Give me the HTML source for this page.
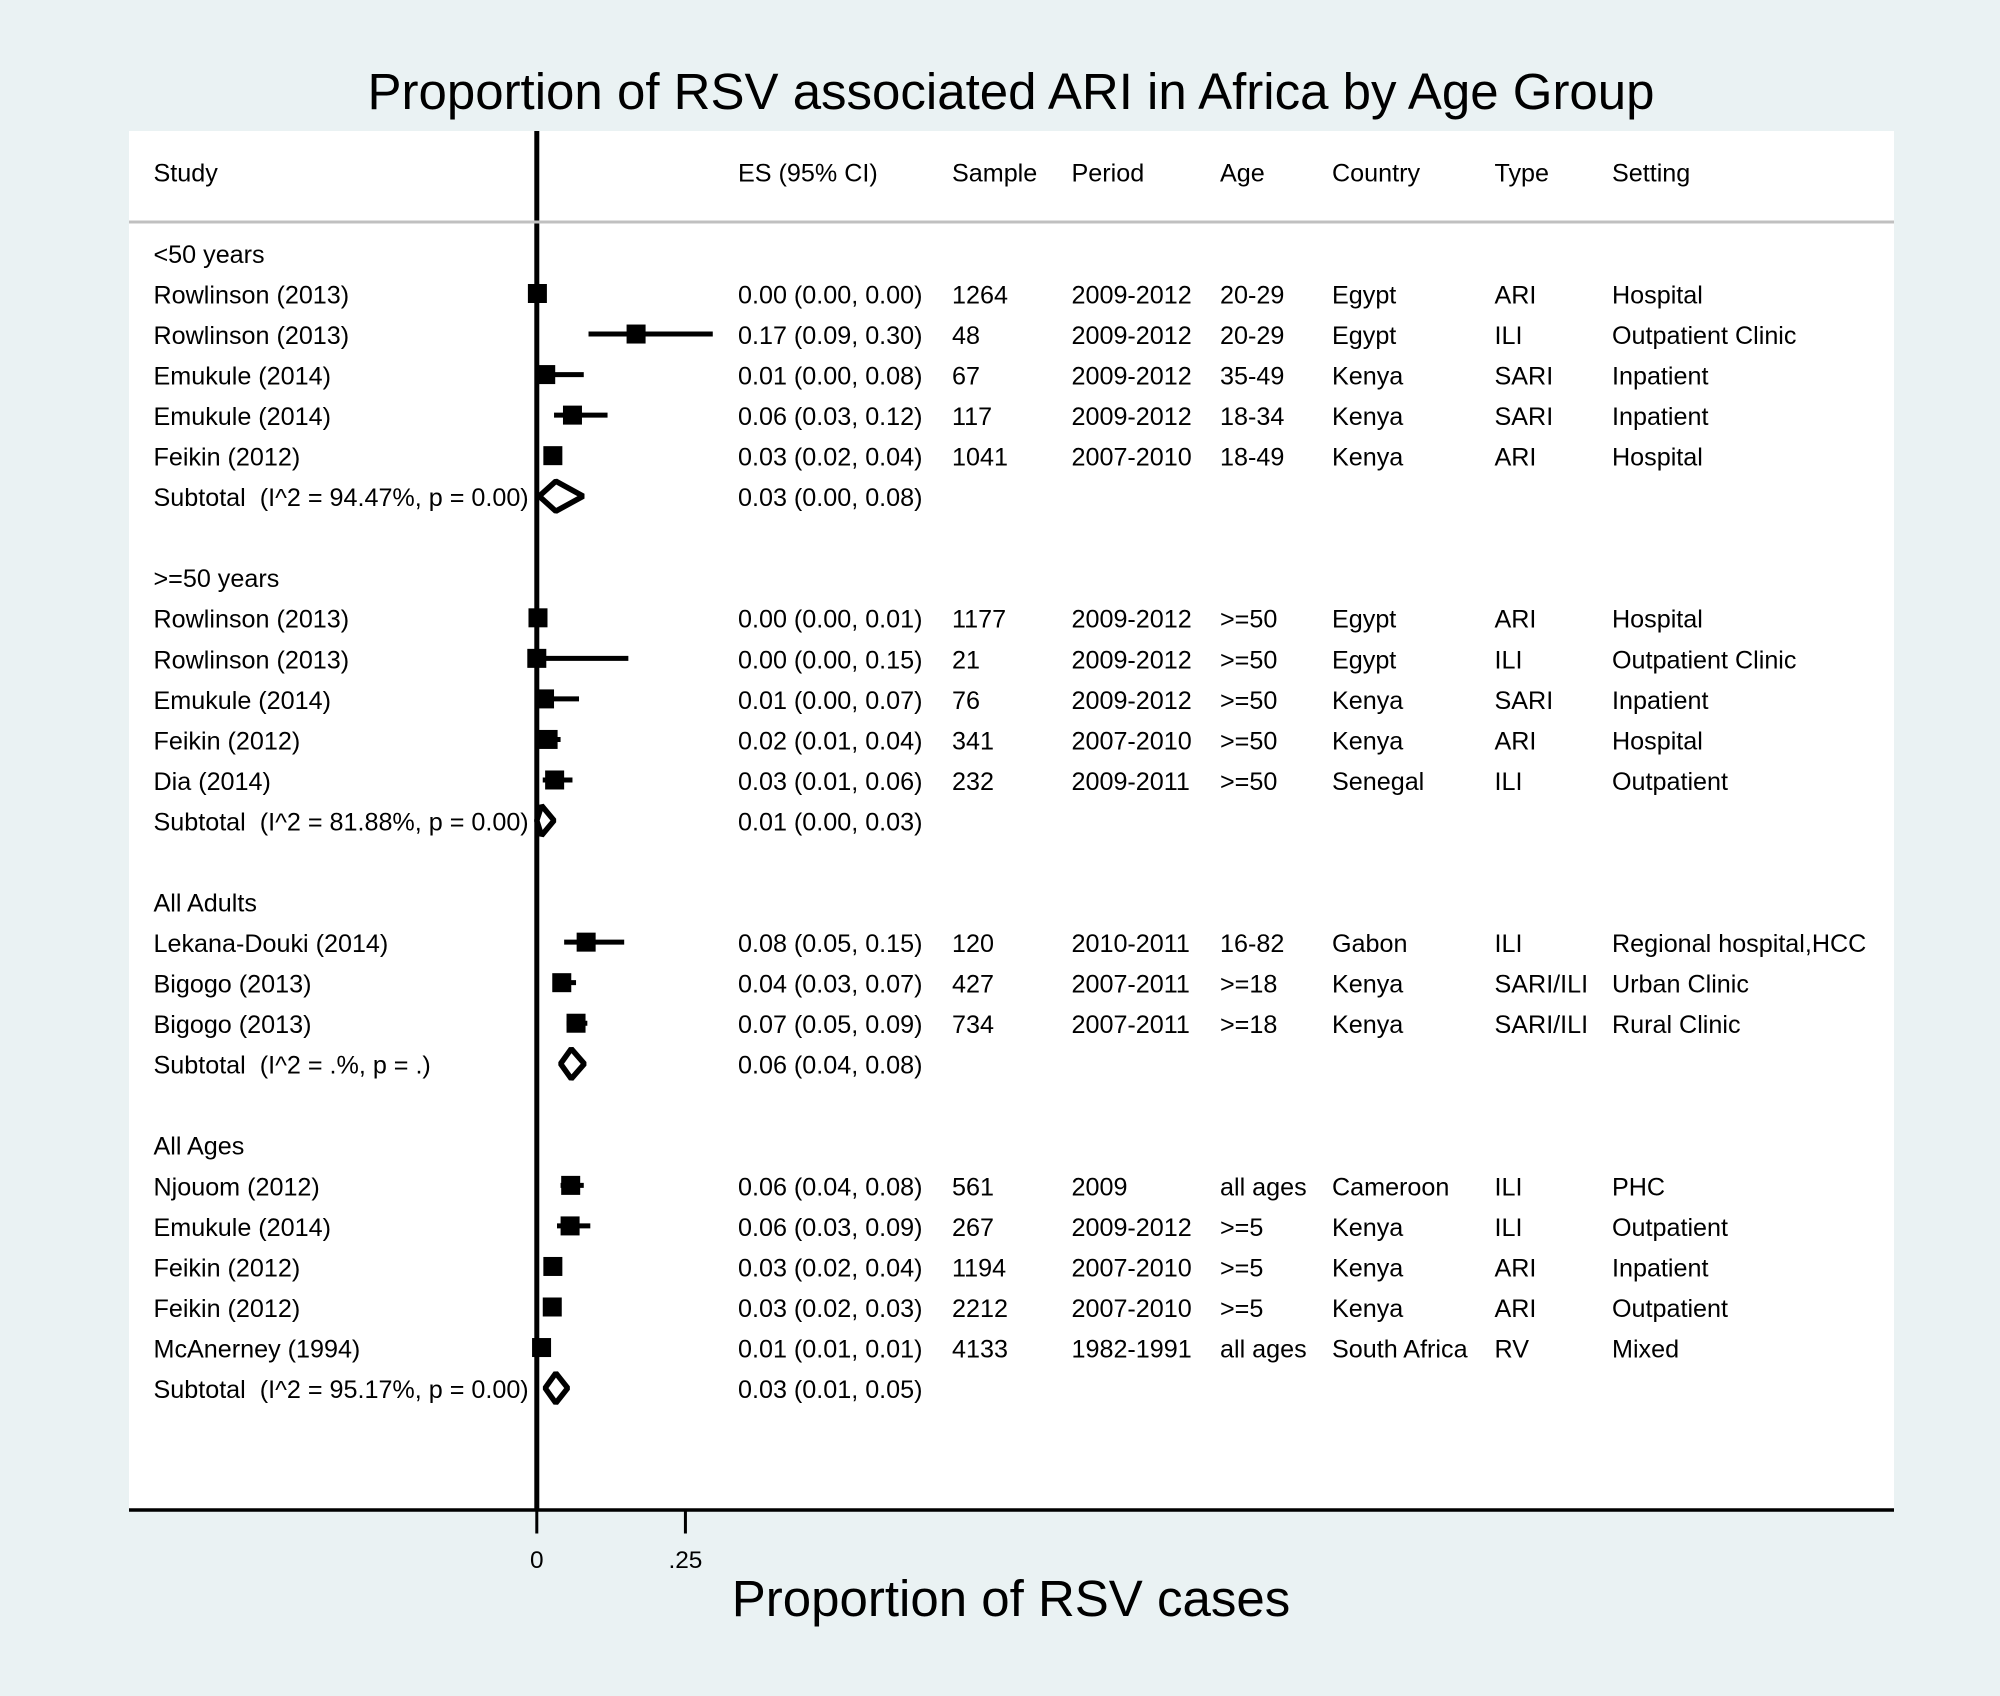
<!DOCTYPE html>
<html lang="en">
<head>
<meta charset="utf-8">
<title>Proportion of RSV associated ARI in Africa by Age Group</title>
<style>
  html, body { margin: 0; padding: 0; background: #eaf2f3; }
  svg { display: block; }
  text { font-family: "Liberation Sans", Arial, sans-serif; fill: #000; white-space: pre; }
  .t { font-size: 25.15px; }
  .tick { font-size: 24.4px; text-anchor: middle; }
  .big { font-size: 51px; text-anchor: middle; }
</style>
</head>
<body>
<svg id="chart" xmlns="http://www.w3.org/2000/svg" width="2000" height="1696" viewBox="0 0 2000 1696">
  <rect x="0" y="0" width="2000" height="1696" fill="#eaf2f3"/>
  <rect x="129" y="131" width="1765" height="1379" fill="#ffffff"/>
  <text class="big" x="1011" y="109">Proportion of RSV associated ARI in Africa by Age Group</text>
  <text class="big" x="1011" y="1616">Proportion of RSV cases</text>

  <g id="axes"></g>

  <g>
    <text class="t" x="153.5" y="181.7">Study</text>
    <text class="t" x="738" y="181.7">ES (95% CI)</text>
    <text class="t" x="952" y="181.7">Sample</text>
    <text class="t" x="1071.5" y="181.7">Period</text>
    <text class="t" x="1220" y="181.7">Age</text>
    <text class="t" x="1332" y="181.7">Country</text>
    <text class="t" x="1494.5" y="181.7">Type</text>
    <text class="t" x="1612" y="181.7">Setting</text>
  </g>

  <g>
    <text class="t" x="153.5" y="262.9">&lt;50 years</text>
    <text class="t" x="153.5" y="303.4">Rowlinson (2013)</text>
    <text class="t" x="153.5" y="343.9">Rowlinson (2013)</text>
    <text class="t" x="153.5" y="384.5">Emukule (2014)</text>
    <text class="t" x="153.5" y="425">Emukule (2014)</text>
    <text class="t" x="153.5" y="465.6">Feikin (2012)</text>
    <text class="t" x="153.5" y="506.1">Subtotal  (I^2 = 94.47%, p = 0.00)</text>
    <text class="t" x="153.5" y="587.2">&gt;=50 years</text>
    <text class="t" x="153.5" y="627.7">Rowlinson (2013)</text>
    <text class="t" x="153.5" y="668.3">Rowlinson (2013)</text>
    <text class="t" x="153.5" y="708.8">Emukule (2014)</text>
    <text class="t" x="153.5" y="749.3">Feikin (2012)</text>
    <text class="t" x="153.5" y="789.9">Dia (2014)</text>
    <text class="t" x="153.5" y="830.4">Subtotal  (I^2 = 81.88%, p = 0.00)</text>
    <text class="t" x="153.5" y="911.5">All Adults</text>
    <text class="t" x="153.5" y="952">Lekana-Douki (2014)</text>
    <text class="t" x="153.5" y="992.6">Bigogo (2013)</text>
    <text class="t" x="153.5" y="1033.1">Bigogo (2013)</text>
    <text class="t" x="153.5" y="1073.7">Subtotal  (I^2 = .%, p = .)</text>
    <text class="t" x="153.5" y="1154.7">All Ages</text>
    <text class="t" x="153.5" y="1195.3">Njouom (2012)</text>
    <text class="t" x="153.5" y="1235.8">Emukule (2014)</text>
    <text class="t" x="153.5" y="1276.4">Feikin (2012)</text>
    <text class="t" x="153.5" y="1316.9">Feikin (2012)</text>
    <text class="t" x="153.5" y="1357.4">McAnerney (1994)</text>
    <text class="t" x="153.5" y="1398">Subtotal  (I^2 = 95.17%, p = 0.00)</text>
  </g>

  <g>
    <text class="t" x="952" y="303.4">1264</text>
    <text class="t" x="952" y="343.9">48</text>
    <text class="t" x="952" y="384.5">67</text>
    <text class="t" x="952" y="425">117</text>
    <text class="t" x="952" y="465.6">1041</text>
    <text class="t" x="952" y="627.7">1177</text>
    <text class="t" x="952" y="668.3">21</text>
    <text class="t" x="952" y="708.8">76</text>
    <text class="t" x="952" y="749.3">341</text>
    <text class="t" x="952" y="789.9">232</text>
    <text class="t" x="952" y="952">120</text>
    <text class="t" x="952" y="992.6">427</text>
    <text class="t" x="952" y="1033.1">734</text>
    <text class="t" x="952" y="1195.3">561</text>
    <text class="t" x="952" y="1235.8">267</text>
    <text class="t" x="952" y="1276.4">1194</text>
    <text class="t" x="952" y="1316.9">2212</text>
    <text class="t" x="952" y="1357.4">4133</text>
  </g>

  <g>
    <text class="t" x="1071.5" y="303.4">2009-2012</text>
    <text class="t" x="1071.5" y="343.9">2009-2012</text>
    <text class="t" x="1071.5" y="384.5">2009-2012</text>
    <text class="t" x="1071.5" y="425">2009-2012</text>
    <text class="t" x="1071.5" y="465.6">2007-2010</text>
    <text class="t" x="1071.5" y="627.7">2009-2012</text>
    <text class="t" x="1071.5" y="668.3">2009-2012</text>
    <text class="t" x="1071.5" y="708.8">2009-2012</text>
    <text class="t" x="1071.5" y="749.3">2007-2010</text>
    <text class="t" x="1071.5" y="789.9">2009-2011</text>
    <text class="t" x="1071.5" y="952">2010-2011</text>
    <text class="t" x="1071.5" y="992.6">2007-2011</text>
    <text class="t" x="1071.5" y="1033.1">2007-2011</text>
    <text class="t" x="1071.5" y="1195.3">2009</text>
    <text class="t" x="1071.5" y="1235.8">2009-2012</text>
    <text class="t" x="1071.5" y="1276.4">2007-2010</text>
    <text class="t" x="1071.5" y="1316.9">2007-2010</text>
    <text class="t" x="1071.5" y="1357.4">1982-1991</text>
  </g>

  <g>
    <text class="t" x="1220" y="303.4">20-29</text>
    <text class="t" x="1220" y="343.9">20-29</text>
    <text class="t" x="1220" y="384.5">35-49</text>
    <text class="t" x="1220" y="425">18-34</text>
    <text class="t" x="1220" y="465.6">18-49</text>
    <text class="t" x="1220" y="627.7">&gt;=50</text>
    <text class="t" x="1220" y="668.3">&gt;=50</text>
    <text class="t" x="1220" y="708.8">&gt;=50</text>
    <text class="t" x="1220" y="749.3">&gt;=50</text>
    <text class="t" x="1220" y="789.9">&gt;=50</text>
    <text class="t" x="1220" y="952">16-82</text>
    <text class="t" x="1220" y="992.6">&gt;=18</text>
    <text class="t" x="1220" y="1033.1">&gt;=18</text>
    <text class="t" x="1220" y="1195.3">all ages</text>
    <text class="t" x="1220" y="1235.8">&gt;=5</text>
    <text class="t" x="1220" y="1276.4">&gt;=5</text>
    <text class="t" x="1220" y="1316.9">&gt;=5</text>
    <text class="t" x="1220" y="1357.4">all ages</text>
  </g>

  <g>
    <text class="t" x="1332" y="303.4">Egypt</text>
    <text class="t" x="1332" y="343.9">Egypt</text>
    <text class="t" x="1332" y="384.5">Kenya</text>
    <text class="t" x="1332" y="425">Kenya</text>
    <text class="t" x="1332" y="465.6">Kenya</text>
    <text class="t" x="1332" y="627.7">Egypt</text>
    <text class="t" x="1332" y="668.3">Egypt</text>
    <text class="t" x="1332" y="708.8">Kenya</text>
    <text class="t" x="1332" y="749.3">Kenya</text>
    <text class="t" x="1332" y="789.9">Senegal</text>
    <text class="t" x="1332" y="952">Gabon</text>
    <text class="t" x="1332" y="992.6">Kenya</text>
    <text class="t" x="1332" y="1033.1">Kenya</text>
    <text class="t" x="1332" y="1195.3">Cameroon</text>
    <text class="t" x="1332" y="1235.8">Kenya</text>
    <text class="t" x="1332" y="1276.4">Kenya</text>
    <text class="t" x="1332" y="1316.9">Kenya</text>
    <text class="t" x="1332" y="1357.4">South Africa</text>
  </g>

  <g>
    <text class="t" x="1494.5" y="303.4">ARI</text>
    <text class="t" x="1494.5" y="343.9">ILI</text>
    <text class="t" x="1494.5" y="384.5">SARI</text>
    <text class="t" x="1494.5" y="425">SARI</text>
    <text class="t" x="1494.5" y="465.6">ARI</text>
    <text class="t" x="1494.5" y="627.7">ARI</text>
    <text class="t" x="1494.5" y="668.3">ILI</text>
    <text class="t" x="1494.5" y="708.8">SARI</text>
    <text class="t" x="1494.5" y="749.3">ARI</text>
    <text class="t" x="1494.5" y="789.9">ILI</text>
    <text class="t" x="1494.5" y="952">ILI</text>
    <text class="t" x="1494.5" y="992.6">SARI/ILI</text>
    <text class="t" x="1494.5" y="1033.1">SARI/ILI</text>
    <text class="t" x="1494.5" y="1195.3">ILI</text>
    <text class="t" x="1494.5" y="1235.8">ILI</text>
    <text class="t" x="1494.5" y="1276.4">ARI</text>
    <text class="t" x="1494.5" y="1316.9">ARI</text>
    <text class="t" x="1494.5" y="1357.4">RV</text>
  </g>

  <g>
    <text class="t" x="1612" y="303.4">Hospital</text>
    <text class="t" x="1612" y="343.9">Outpatient Clinic</text>
    <text class="t" x="1612" y="384.5">Inpatient</text>
    <text class="t" x="1612" y="425">Inpatient</text>
    <text class="t" x="1612" y="465.6">Hospital</text>
    <text class="t" x="1612" y="627.7">Hospital</text>
    <text class="t" x="1612" y="668.3">Outpatient Clinic</text>
    <text class="t" x="1612" y="708.8">Inpatient</text>
    <text class="t" x="1612" y="749.3">Hospital</text>
    <text class="t" x="1612" y="789.9">Outpatient</text>
    <text class="t" x="1612" y="952">Regional hospital,HCC</text>
    <text class="t" x="1612" y="992.6">Urban Clinic</text>
    <text class="t" x="1612" y="1033.1">Rural Clinic</text>
    <text class="t" x="1612" y="1195.3">PHC</text>
    <text class="t" x="1612" y="1235.8">Outpatient</text>
    <text class="t" x="1612" y="1276.4">Inpatient</text>
    <text class="t" x="1612" y="1316.9">Outpatient</text>
    <text class="t" x="1612" y="1357.4">Mixed</text>
  </g>

  <g id="es-column"></g>
  <g id="marks"></g>
</svg>

<script>
// Study estimates: slot = table row number counted from the first group label
const studySlots = [1, 2, 3, 4, 5, 9, 10, 11, 12, 13, 17, 18, 19, 23, 24, 25, 26, 27];
const studyEs = [0.001, 0.167, 0.015, 0.060, 0.027, 0.002, 0.000, 0.013, 0.019, 0.030, 0.083, 0.042, 0.066, 0.057, 0.056, 0.027, 0.026, 0.008];
const studyLo = [0.000, 0.087, 0.000, 0.029, 0.020, 0.000, 0.000, 0.000, 0.010, 0.010, 0.046, 0.030, 0.050, 0.040, 0.034, 0.020, 0.020, 0.006];
const studyHi = [0.002, 0.296, 0.079, 0.119, 0.036, 0.010, 0.154, 0.071, 0.040, 0.060, 0.147, 0.066, 0.085, 0.079, 0.090, 0.040, 0.032, 0.010];

// Pooled subtotals
const subtotalSlots = [6, 14, 20, 28];
const subtotalEs = [0.032, 0.008, 0.058, 0.032];
const subtotalLo = [0.004, 0.000, 0.040, 0.014];
const subtotalHi = [0.078, 0.029, 0.080, 0.052];

// X axis ticks
const tickValues = [0, 0.25];
const tickLabels = ['0', '.25'];

const NS = 'http://www.w3.org/2000/svg';
const xScale = function (v) { return 536.8 + 594.5 * v; };
const markY = function (slot) { return 293.5 + (slot - 1) * 40.54; };
const textY = function (slot) { return 303.4 + (slot - 1) * 40.54; };
const MARKER = 19;
const DIAMOND_H = 15;

function svgEl(parent, tag, props) {
  const el = document.createElementNS(NS, tag);
  Object.keys(props).forEach(function (k) { el.setAttribute(k, props[k]); });
  parent.appendChild(el);
  return el;
}
function fmt(es, lo, hi) {
  return es.toFixed(2) + ' (' + lo.toFixed(2) + ', ' + hi.toFixed(2) + ')';
}

const axes = document.getElementById('axes');
const marks = document.getElementById('marks');
const esCol = document.getElementById('es-column');

// Null line at zero
const nullLine = svgEl(axes, 'line', { x1: xScale(0), x2: xScale(0), y1: 131, y2: 1510, stroke: '#000', 'stroke-width': 5 });



// Header separator
const sep = svgEl(axes, 'line', { x1: 129, x2: 1894, y1: 222, y2: 222, stroke: '#c0c0c0', 'stroke-width': 3 });



// X axis
const xAxis = svgEl(axes, 'line', { x1: 129, x2: 1894, y1: 1510, y2: 1510, stroke: '#000', 'stroke-width': 3.4 });



tickValues.forEach(function (v, i) {
  const tick = svgEl(axes, 'line', { x1: xScale(v), x2: xScale(v), y1: 1510, y2: 1533.5, stroke: '#000', 'stroke-width': 3 });
  
  
  const label = svgEl(axes, 'text', { class: 'tick', x: xScale(v), y: 1568 });
  
  
  label.textContent = tickLabels[i];
});

// Study rows: CI line, square marker, printed estimate
studySlots.forEach(function (slot, i) {
  const y = markY(slot);
  const ci = svgEl(marks, 'line', { x1: xScale(studyLo[i]), x2: xScale(studyHi[i]), y1: y, y2: y, stroke: '#000', 'stroke-width': 5 });
  
  
  const box = svgEl(marks, 'rect', { x: xScale(studyEs[i]) - MARKER / 2, y: y - MARKER / 2, width: MARKER, height: MARKER, fill: '#000' });
  
  
  const t = svgEl(esCol, 'text', { class: 't', x: 738, y: textY(slot) });
  
  
  t.textContent = fmt(studyEs[i], studyLo[i], studyHi[i]);
});

// Subtotal rows: hollow diamond, printed estimate
subtotalSlots.forEach(function (slot, i) {
  const y = markY(slot);
  const pts = [
    [xScale(subtotalLo[i]), y],
    [xScale(subtotalEs[i]), y - DIAMOND_H],
    [xScale(subtotalHi[i]), y],
    [xScale(subtotalEs[i]), y + DIAMOND_H]
  ].map(function (p) { return p.join(','); }).join(' ');
  const d = svgEl(marks, 'polygon', { points: pts, fill: 'none', stroke: '#000', 'stroke-width': 5.5, 'stroke-linejoin': 'bevel' });
  
  
  const t = svgEl(esCol, 'text', { class: 't', x: 738, y: textY(slot) });
  
  
  t.textContent = fmt(subtotalEs[i], subtotalLo[i], subtotalHi[i]);
});
</script>
</body>
</html>
